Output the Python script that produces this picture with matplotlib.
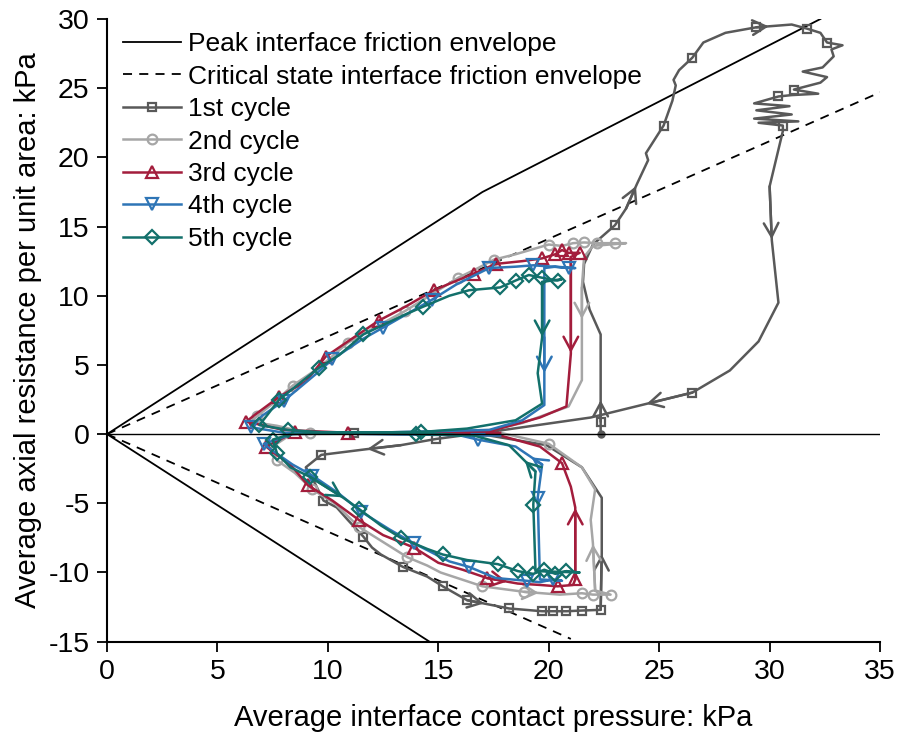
import matplotlib
matplotlib.use("Agg")
import matplotlib.pyplot as plt

plt.rcParams['font.family'] = ['Liberation Sans', 'DejaVu Sans']
plt.rcParams['axes.unicode_minus'] = False

# Interface friction envelopes (contact pressure, axial resistance)
peak_x = [0.0, 17.0, 32.3]
peak_y = [0.0, 17.5, 30.0]
peak_neg_x = [0.0, 14.6]
peak_neg_y = [0.0, -15.0]
crit_x = [0.0, 35.0]
crit_y = [0.0, 24.7]
crit_neg_x = [0.0, 21.0]
crit_neg_y = [0.0, -14.8]

# 1st cycle
x1 = [22.35, 22.35, 22.35, 22.35, 21.85, 21.55, 21.6, 22.0, 23.0, 23.5,
      24.0, 24.5, 24.4, 25.2, 25.6, 25.75, 25.65, 25.9, 26.5, 27.0,
      28.0, 29.4, 31.0, 31.7, 32.3, 32.6, 33.3, 32.8, 32.9, 32.4,
      31.5, 32.6, 32.3, 31.1, 32.2, 31.0, 30.4, 29.3, 30.9, 29.4,
      31.0, 29.3, 31.3, 29.5, 30.6, 30.6, 30.0, 30.1, 30.4, 29.5,
      28.2, 26.5, 21.9, 17.3, 14.9, 13.3, 11.7, 9.7, 9.0, 9.3,
      9.8, 10.4, 10.9, 11.6, 12.0, 12.4, 13.4, 14.5, 15.2, 16.3,
      18.2, 19.7, 20.2, 20.8, 21.5, 22.35, 22.4, 22.4, 21.5, 19.9,
      17.3, 11.2]
y1 = [0.0, 0.9, 4.0, 7.2, 9.0, 11.0, 12.3, 13.7, 15.1, 16.3,
      18.1, 19.8, 20.3, 22.3, 24.1, 25.2, 25.6, 26.3, 27.2, 28.3,
      29.0, 29.4, 29.6, 29.3, 29.0, 28.3, 28.1, 27.8, 27.3, 26.5,
      26.2, 25.8, 25.4, 24.9, 24.6, 24.5, 24.4, 23.9, 23.7, 23.4,
      23.1, 22.8, 22.6, 22.5, 22.3, 21.9, 17.9, 14.0, 9.5, 6.7,
      4.6, 3.0, 1.2, 0.15, -0.35, -0.8, -1.1, -1.5, -2.4, -3.2,
      -4.8, -5.3, -6.2, -7.4, -8.2, -8.7, -9.6, -10.3, -11.0, -12.0,
      -12.6, -12.8, -12.8, -12.8, -12.75, -12.7, -8.6, -4.6, -2.4, -0.8,
      -0.1, 0.05]
m1 = [1, 8, 13, 18, 21, 23, 25, 33, 36, 44, 51, 54, 57, 60, 63, 66, 68,
      69, 70, 71, 72, 73, 74, 75, 81]
a1 = [(1, 0.5), (9, 0.9), (21, 0.35), (46, 0.98), (51, 0.45), (55, 0.95),
      (69, 0.4), (75, 0.98)]

# 2nd cycle
x2 = [11.2, 9.2, 7.7, 6.5, 6.8, 7.5, 8.4, 9.6, 10.9, 12.0,
      13.5, 14.6, 15.9, 16.8, 17.5, 18.5, 20.0, 20.6, 21.1, 21.6,
      22.2, 23.0, 23.5, 22.0, 21.6, 21.5, 21.5, 21.5, 20.9, 18.8,
      17.4, 12.0, 8.4, 7.4, 7.7, 8.5, 9.3, 10.3, 11.4, 12.5,
      13.6, 14.5, 15.1, 17.0, 18.9, 20.5, 21.5, 22.0, 22.8, 22.1,
      22.0, 21.9, 22.1, 21.5, 20.0, 17.8]
y2 = [0.05, 0.05, 0.6, 0.9, 1.3, 2.2, 3.5, 4.8, 6.6, 7.6,
      8.9, 10.0, 11.3, 12.0, 12.6, 13.0, 13.7, 13.6, 13.8, 13.85,
      13.8, 13.8, 13.8, 13.6, 12.8, 10.6, 8.2, 3.9, 2.0, 0.8,
      0.3, 0.1, 0.05, -1.0, -1.9, -2.8, -4.0, -5.0, -6.7, -7.8,
      -8.9, -9.5, -10.0, -11.0, -11.4, -11.6, -11.5, -11.6, -11.6, -11.3,
      -7.9, -6.2, -4.0, -2.4, -0.7, 0.1]
m2 = [1, 4, 6, 8, 10, 12, 14, 16, 18, 19, 20, 21, 34, 36, 38, 40, 43, 44,
      46, 47, 48, 54]
a2 = [(25, 0.95), (44, 0.4), (49, 0.98)]

# 3rd cycle
x3 = [17.8, 12.5, 10.9, 8.0, 6.3, 6.7, 7.8, 9.0, 9.9, 11.0,
      12.3, 13.5, 14.8, 15.7, 16.6, 17.6, 18.8, 19.7, 20.3, 20.6,
      20.9, 21.4, 21.0, 21.0, 20.8, 19.6, 18.7, 17.3, 12.0, 8.5,
      7.2, 7.6, 8.3, 9.1, 10.2, 11.4, 12.5, 13.9, 15.0, 16.1,
      17.2, 18.6, 19.6, 20.4, 21.1, 21.2, 21.2, 21.0, 20.6, 19.6,
      17.8]
y3 = [0.1, 0.1, 0.1, 0.3, 0.9, 1.4, 2.7, 3.8, 5.6, 6.8,
      8.2, 9.2, 10.4, 11.0, 11.6, 12.3, 12.5, 12.7, 13.0, 13.3,
      13.1, 13.1, 12.8, 5.8, 2.0, 1.2, 0.8, 0.2, 0.1, 0.15,
      -0.9, -1.4, -2.2, -3.7, -4.8, -6.2, -7.3, -8.2, -9.3, -9.8,
      -10.4, -10.8, -10.9, -11.0, -10.9, -10.5, -5.3, -3.8, -2.1, -0.9,
      -0.1]
m3 = [2, 4, 6, 8, 10, 12, 14, 15, 17, 18, 19, 20, 21, 29, 30, 33, 35, 37,
      40, 43, 45, 48]
a3 = [(22, 0.99), (40, 0.65), (45, 0.99)]

# 4th cycle
x4 = [17.8, 12.0, 8.0, 6.5, 7.0, 8.0, 9.5, 10.2, 11.5, 12.5,
      13.6, 14.7, 15.8, 17.3, 18.5, 19.3, 20.2, 20.9, 21.2, 20.3,
      19.8, 19.8, 19.8, 19.8, 18.8, 17.3, 12.0, 8.4, 7.1, 7.5,
      8.4, 9.3, 10.5, 11.5, 12.8, 13.9, 15.5, 16.4, 17.6, 19.0,
      19.6, 20.2, 20.6, 19.6, 19.5, 19.7, 18.5, 16.8, 16.0]
y4 = [-0.1, 0.0, 0.1, 0.5, 1.3, 2.4, 4.4, 5.4, 6.8, 7.7,
      8.7, 9.7, 10.8, 12.0, 12.1, 12.2, 12.1, 12.0, 12.0, 12.1,
      12.0, 7.0, 4.4, 2.1, 1.0, 0.3, 0.1, 0.0, -0.7, -1.2,
      -2.2, -3.0, -4.3, -5.6, -6.9, -7.9, -9.2, -9.6, -10.4, -10.6,
      -10.7, -10.5, -10.6, -10.5, -4.6, -2.2, -0.9, -0.4, -0.1]
m4 = [3, 5, 7, 9, 11, 13, 15, 17, 28, 31, 33, 35, 37, 39, 41, 44, 47]
a4 = [(21, 0.99), (45, 0.4)]

# 5th cycle
x5 = [16.0, 14.2, 10.0, 8.2, 6.9, 7.8, 9.6, 10.5, 11.6, 13.3,
      14.3, 15.5, 16.4, 17.8, 18.5, 19.1, 19.7, 20.4, 20.6, 19.7,
      19.7, 19.5, 19.7, 18.5, 16.3, 14.2, 10.0, 8.3, 7.5, 7.7,
      8.3, 9.2, 10.7, 11.4, 12.4, 13.3, 14.5, 15.2, 16.3, 17.7,
      18.6, 19.3, 19.8, 20.3, 20.8, 21.4, 19.4, 19.3, 19.4, 18.2,
      16.6, 14.0]
y5 = [-0.1, 0.1, 0.1, 0.3, 0.65, 2.5, 4.8, 5.7, 7.2, 8.5,
      9.2, 10.0, 10.4, 10.6, 11.1, 11.5, 11.3, 11.1, 11.2, 11.0,
      7.0, 4.4, 2.2, 1.0, 0.4, 0.15, 0.1, 0.0, -0.4, -1.4,
      -2.4, -3.1, -4.6, -5.4, -6.6, -7.5, -8.3, -8.7, -9.1, -9.4,
      -9.9, -10.1, -9.8, -10.1, -9.9, -10.0, -9.9, -5.1, -2.7, -0.8,
      -0.1, 0.0]
m5 = [3, 4, 5, 6, 8, 10, 12, 13, 14, 15, 16, 17, 25, 28, 29, 31, 33, 35,
      37, 39, 40, 41, 42, 43, 44, 47, 51]
a5 = [(19, 0.99), (31, 0.98), (48, 0.4)]

labels = ['1st cycle', '2nd cycle', '3rd cycle', '4th cycle', '5th cycle']
colors = ['#595959', '#a6a6a6', '#a31d3c', '#2e75b6', '#12706b']
markers = ['s', 'o', '^', 'v', 'D']
msizes = [6.0, 7.0, 8.5, 8.5, 7.0]

fig = plt.figure(figsize=(8.98, 7.39), dpi=100)
ax = fig.add_axes([0.1192, 0.1317, 0.8608, 0.8426])

env_lw = 1.3
h_peak, = ax.plot(peak_x, peak_y, color='black', lw=env_lw,
                  label='Peak interface friction envelope')
ax.plot(peak_neg_x, peak_neg_y, color='black', lw=env_lw)
h_crit, = ax.plot(crit_x, crit_y, color='black', lw=env_lw,
                  linestyle=(0, (5, 4)),
                  label='Critical state interface friction envelope')
ax.plot(crit_neg_x, crit_neg_y, color='black', lw=env_lw, linestyle=(0, (5, 4)))

lw = 1.8
series = [(x1, y1, m1, a1), (x2, y2, m2, a2), (x3, y3, m3, a3),
          (x4, y4, m4, a4), (x5, y5, m5, a5)]
handles = [h_peak, h_crit]
for (xs, ys, ms_idx, arrows), lab, col, mk, msz in zip(series, labels, colors,
                                                       markers, msizes):
    h, = ax.plot(xs, ys, color=col, lw=lw, marker=mk, markevery=ms_idx,
                 ms=msz, mfc='none', mec=col, mew=1.6, label=lab, zorder=2)
    handles.append(h)
    for i, f in arrows:
        x0, y0 = xs[i], ys[i]
        px = x0 + f * (xs[i + 1] - x0)
        py = y0 + f * (ys[i + 1] - y0)
        ax.annotate('', xy=(px, py), xytext=(x0, y0),
                    arrowprops=dict(arrowstyle='->,head_length=0.65,head_width=0.35',
                                    color=col, lw=lw, shrinkA=0, shrinkB=0,
                                    mutation_scale=15),
                    zorder=2)

# starting point of the first cycle
ax.plot([x1[0]], [y1[0]], 'o', color=colors[0], ms=5, zorder=3)

ax.axhline(0, color='black', lw=1.0, zorder=3)

ax.set_xlim(0, 35)
ax.set_ylim(-15, 30)
ax.set_xticks(range(0, 36, 5))
ax.set_yticks(range(-15, 31, 5))
for s in ['top', 'right']:
    ax.spines[s].set_visible(False)
for s in ['left', 'bottom']:
    ax.spines[s].set_linewidth(1.5)
ax.tick_params(direction='out', length=7.5, width=1.3, labelsize=20.5, pad=5)

ax.set_xlabel('Average interface contact pressure: kPa', fontsize=21, labelpad=14)
ax.set_ylabel('Average axial resistance per unit area: kPa', fontsize=21, labelpad=5)

ax.legend(handles=handles, loc='upper left', bbox_to_anchor=(0.004, 1.0),
          frameon=False, fontsize=19, handlelength=2.2, handletextpad=0.25,
          labelspacing=0.32, borderaxespad=0.0, borderpad=0.5)

fig.savefig('out.png', dpi=100)
